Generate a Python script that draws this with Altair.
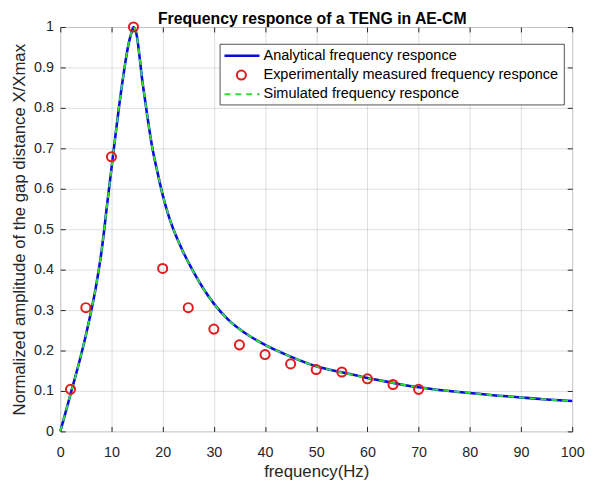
import altair as alt
import pandas as pd

# ---------------- data ----------------
freq = [0, 1, 2, 3, 4, 5, 6, 7, 7.5, 8, 8.5, 9, 9.5, 10, 10.5, 11, 11.5, 12,
        12.5, 13, 13.5, 14, 14.3, 14.6, 15, 15.5, 16, 16.5, 17, 18, 19, 20,
        21, 22, 23, 24, 26, 28, 30, 33, 36, 40, 45, 50, 55, 60, 65, 70, 75,
        80, 85, 90, 95, 100]
analytical = [0, 0.045, 0.092, 0.138, 0.186, 0.238, 0.295, 0.36, 0.398, 0.44,
              0.49, 0.545, 0.598, 0.65, 0.703, 0.755, 0.805, 0.852, 0.895,
              0.935, 0.967, 0.99, 1.0, 0.995, 0.975, 0.925, 0.87, 0.825, 0.78,
              0.70, 0.64, 0.585, 0.54, 0.503, 0.472, 0.444, 0.395, 0.352,
              0.316, 0.274, 0.244, 0.214, 0.185, 0.161, 0.146, 0.132, 0.12,
              0.109, 0.101, 0.095, 0.089, 0.084, 0.079, 0.075]
simulated = [0, 0.045, 0.092, 0.138, 0.186, 0.238, 0.295, 0.36, 0.398, 0.44,
             0.49, 0.545, 0.598, 0.65, 0.703, 0.755, 0.805, 0.852, 0.895,
             0.935, 0.967, 0.99, 1.0, 0.995, 0.975, 0.925, 0.87, 0.825, 0.78,
             0.70, 0.64, 0.585, 0.54, 0.503, 0.472, 0.444, 0.395, 0.352,
             0.316, 0.274, 0.244, 0.214, 0.185, 0.161, 0.146, 0.132, 0.12,
             0.109, 0.101, 0.095, 0.089, 0.084, 0.079, 0.075]
exp_freq = [2, 5, 10, 14.3, 20, 25, 30, 35, 40, 45, 50, 55, 60, 65, 70]
exp_amp = [0.104, 0.306, 0.679, 1.0, 0.403, 0.306, 0.253, 0.214, 0.19,
           0.167, 0.153, 0.147, 0.13, 0.116, 0.104]

legend_labels = ["Analytical frequency responce",
                 "Experimentally measured frequency responce",
                 "Simulated frequency responce"]
title_text = "Frequency responce of a TENG in AE-CM"
x_title = "frequency(Hz)"
y_title = "Normalized amplitude of the gap distance X/Xmax"
x_ticks = [0, 10, 20, 30, 40, 50, 60, 70, 80, 90, 100]
y_ticks = [0, 0.1, 0.2, 0.3, 0.4, 0.5, 0.6, 0.7, 0.8, 0.9, 1.0]

# ---------------- styling ----------------
FONT = "Liberation Sans"
W, H = 519, 410
AX = "#262626"
BLUE = "#0a0ae0"
GREEN = "#33dd33"
RED = "#e01b1b"

curve_df = pd.DataFrame({"f": freq, "a": analytical, "s": simulated})
exp_df = pd.DataFrame({"f": exp_freq, "a": exp_amp})
one = pd.DataFrame({"k": [0]})

xs = alt.Scale(domain=[0, 100], nice=False, zero=False)
ys = alt.Scale(domain=[0, 1], nice=False, zero=False)

main_x = alt.Axis(values=x_ticks, grid=True, gridColor=AX, gridOpacity=0.15,
                  ticks=False, tickSize=0, domain=False, labelFont=FONT,
                  labelFontSize=14.5, labelColor=AX, labelPadding=25,
                  labelBaseline="alphabetic", labelFlush=False,
                  labelOverlap=False, title=x_title, titleFont=FONT,
                  titleFontSize=17, titleFontWeight="normal", titleColor=AX,
                  titleX=W / 2, titleY=45.5, titleAlign="center",
                  titleBaseline="alphabetic")
main_y = alt.Axis(values=y_ticks, format="~g", grid=True, gridColor=AX,
                  gridOpacity=0.15, ticks=False, tickSize=0, domain=False,
                  labelFont=FONT, labelFontSize=14.5, labelColor=AX,
                  labelPadding=7, labelFlush=False, labelOverlap=False,
                  title=y_title, titleFont=FONT, titleFontSize=17,
                  titleFontWeight="normal", titleColor=AX, titleX=-36,
                  titleY=H / 2, titleAngle=270, titleAlign="center",
                  titleBaseline="alphabetic")


def tick_axis(orient, vals):
    return alt.Axis(orient=orient, offset=-5, values=vals, labels=False,
                    grid=False, domain=False, ticks=True, tickSize=5,
                    tickColor=AX, tickWidth=1, title=None)


analytical_line = alt.Chart(curve_df).mark_line(
    color=BLUE, strokeWidth=2.6, interpolate="monotone"
).encode(
    x=alt.X("f:Q", scale=xs, axis=main_x),
    y=alt.Y("a:Q", scale=ys, axis=main_y),
)

simulated_line = alt.Chart(curve_df).mark_line(
    color=GREEN, strokeWidth=2, strokeDash=[6, 5], interpolate="monotone"
).encode(
    x=alt.X("f:Q", scale=xs, axis=tick_axis("bottom", x_ticks)),
    y=alt.Y("s:Q", scale=ys, axis=tick_axis("left", y_ticks)),
)

exp_points = alt.Chart(exp_df).mark_point(
    shape="circle", filled=False, color=RED, strokeWidth=2, size=85, opacity=1
).encode(
    x=alt.X("f:Q", scale=xs, axis=tick_axis("top", x_ticks)),
    y=alt.Y("a:Q", scale=ys, axis=tick_axis("right", y_ticks)),
)

# ---------------- title as text (MATLAB style, above the box) ----------------
title_mark = alt.Chart(one).mark_text(
    align="center", baseline="alphabetic", font=FONT, fontSize=16,
    fontWeight="bold", color="black"
).encode(x=alt.value(W / 2 - 4), y=alt.value(-3.5),
         text=alt.value(title_text))

# ---------------- manual MATLAB-style legend ----------------
leg_box = alt.Chart(one).mark_rect(
    fill="white", stroke=AX, strokeWidth=0.8
).encode(x=alt.value(162), x2=alt.value(511), y=alt.value(17.5),
         y2=alt.value(79))
row_y = [29.2, 48.7, 68.2]
leg_blue = alt.Chart(one).mark_rule(color=BLUE, strokeWidth=2.6).encode(
    x=alt.value(166.5), x2=alt.value(202), y=alt.value(row_y[0]))
leg_red = alt.Chart(one).mark_point(
    shape="circle", filled=False, color=RED, strokeWidth=2, size=85, opacity=1
).encode(x=alt.value(183.6), y=alt.value(row_y[1]))
leg_green = alt.Chart(one).mark_rule(
    color=GREEN, strokeWidth=2, strokeDash=[6, 5]
).encode(x=alt.value(166.5), x2=alt.value(202), y=alt.value(row_y[2]))
leg_texts = [
    alt.Chart(one).mark_text(
        align="left", baseline="middle", font=FONT, fontSize=14.7,
        color="black"
    ).encode(x=alt.value(206), y=alt.value(row_y[i]),
             text=alt.value(legend_labels[i]))
    for i in range(3)
]

chart = alt.layer(
    analytical_line, simulated_line, exp_points, title_mark,
    leg_box, leg_blue, leg_red, leg_green, *leg_texts
).resolve_scale(
    x="independent", y="independent"
).properties(
    width=W, height=H,
    autosize=alt.AutoSizeParams(type="none"),
    padding={"left": 53, "top": 16, "right": 14, "bottom": 47},
).configure_view(
    stroke=AX, strokeWidth=1
).configure(background="white")

chart.save("out.html", embed_options={"renderer": "svg", "actions": False})
